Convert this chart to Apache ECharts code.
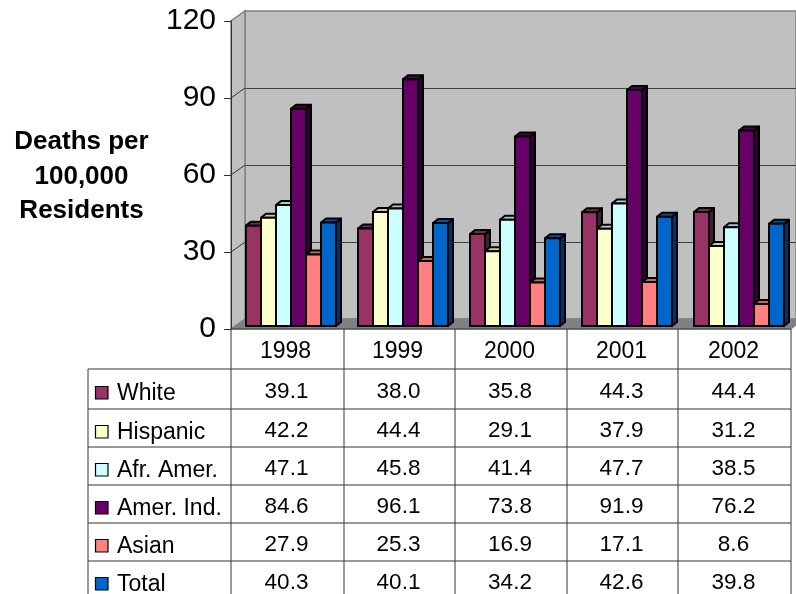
<!DOCTYPE html>
<html><head><meta charset="utf-8">
<style>html,body{margin:0;padding:0;background:#fff;overflow:hidden}#c{width:796px;height:594px}</style>
<script src="https://cdn.jsdelivr.net/npm/echarts@6/dist/echarts.min.js"></script>
</head><body><div id="c"></div>
<script>
const categories = ['1998','1999','2000','2001','2002'];
const white    = [39.1,38.0,35.8,44.3,44.4];
const hispanic = [42.2,44.4,29.1,37.9,31.2];
const afrAmer  = [47.1,45.8,41.4,47.7,38.5];
const amerInd  = [84.6,96.1,73.8,91.9,76.2];
const asian    = [27.9,25.3,16.9,17.1,8.6];
const total    = [40.3,40.1,34.2,42.6,39.8];
const seriesNames = ['White','Hispanic','Afr. Amer.','Amer. Ind.','Asian','Total'];
const seriesValues = [white,hispanic,afrAmer,amerInd,asian,total];
const colors = ['#993366','#FFFFCC','#CCFFFF','#660066','#FF8080','#0066CC'];
const yTicks = [0,30,60,90,120];

const FONT = '"Liberation Sans", Arial, sans-serif';
function shade(hex,k){
  const n=parseInt(hex.slice(1),16);
  const f=v=>Math.round(v*k);
  return `rgb(${f(n>>16&255)},${f(n>>8&255)},${f(n&255)})`;
}
// table geometry
const colX=[231,344,455,567,678,791];
const rowY=[369,409,447,485,523,561,599];
const tableLeft=88, lineC='#333';
const graphics=[];
function ln(x1,y1,x2,y2){graphics.push({type:'line',silent:true,z:20,shape:{x1,y1,x2,y2},style:{stroke:lineC,lineWidth:1}});}
colX.forEach(x=>ln(x,329,x,594));
ln(tableLeft,rowY[0],tableLeft,594);
ln(231,329,791,329);
rowY.slice(0,6).forEach(y=>ln(tableLeft,y,791,y));
seriesNames.forEach((name,r)=>{
  const cy=(rowY[r]+rowY[r+1])/2;
  graphics.push({type:'rect',silent:true,z:21,shape:{x:95.5,y:cy-2.5,width:12.5,height:12.5},style:{fill:colors[r],stroke:'#000',lineWidth:1.2}});
  graphics.push({type:'text',silent:true,z:21,style:{x:117,y:cy+4.5,text:name,font:'23px '+FONT,fill:'#000',textVerticalAlign:'middle',textAlign:'left'}});
  seriesValues[r].forEach((v,c)=>{
    graphics.push({type:'text',silent:true,z:21,style:{x:(colX[c]+colX[c+1])/2-1,y:cy+2.5,text:v.toFixed(1),font:'22.5px '+FONT,fill:'#000',textVerticalAlign:'middle',textAlign:'center'}});
  });
});
['Deaths per','100,000','Residents'].forEach((t,i)=>{
  graphics.push({type:'text',silent:true,z:21,style:{x:81.5,y:142+i*34.5,text:t,font:'bold 26px '+FONT,fill:'#000',textAlign:'center',textVerticalAlign:'middle'}});
});

// side wall + floor + diagonal tick connectors, placed through the front axes
function renderShell(params,api){
  const d=[14,-10];
  const band=api.size([1,0])[0];
  const c0=api.coord([0,0])[0]-band/2, c1=api.coord([4,0])[0]+band/2;
  const p=v=>[c0,api.coord([0,v])[1]];
  const bl=p(0), tl=p(120);
  const wr=[c1,bl[1]];
  const kids=[
    {type:'polygon',shape:{points:[bl,tl,[tl[0]+d[0],tl[1]+d[1]],[bl[0]+d[0],bl[1]+d[1]]]},style:{fill:'#C0C0C0',stroke:'#808080',lineWidth:1.5}},
    {type:'polygon',shape:{points:[bl,wr,[wr[0]+d[0],wr[1]+d[1]],[bl[0]+d[0],bl[1]+d[1]]]},style:{fill:'#808080',stroke:'#808080',lineWidth:1}}
  ];
  yTicks.slice(1,4).forEach(v=>{
    const q=p(v);
    kids.push({type:'line',shape:{x1:q[0],y1:q[1],x2:q[0]+d[0],y2:q[1]+d[1]},style:{stroke:'#333',lineWidth:1}});
  });
  return {type:'group',children:kids};
}
function barRender(i){
  return function(params,api){
    const cat=api.value(0), v=api.value(1);
    const W=15, dx=5, dy=-4, lift=-3;
    const top=api.coord([cat,v]), base=api.coord([cat,0]);
    const x0=base[0]+4-45+i*W, x1=x0+W;
    const y0=top[1]+lift, y1=base[1]+lift;
    const s={stroke:'#000',lineWidth:2,lineJoin:'round'};
    return {type:'group',children:[
      {type:'polygon',shape:{points:[[x1,y0],[x1+dx,y0+dy],[x1+dx,y1+dy],[x1,y1]]},style:Object.assign({fill:shade(colors[i],0.5)},s)},
      {type:'polygon',shape:{points:[[x0,y0],[x0+dx,y0+dy],[x1+dx,y0+dy],[x1,y0]]},style:Object.assign({fill:shade(colors[i],0.8)},s)},
      {type:'rect',shape:{x:x0,y:y0,width:W,height:y1-y0},style:Object.assign({fill:colors[i]},s)}
    ]};
  };
}
const barSeries=seriesNames.map((name,i)=>({
  type:'custom',name,xAxisIndex:0,yAxisIndex:0,z:5+i,clip:false,
  renderItem:barRender(i),
  encode:{x:0,y:1},
  data:seriesValues[i].map((v,c)=>[c,v])
}));
const chart=echarts.init(document.getElementById('c'),null,{renderer:'canvas'});
chart.setOption({
  animation:false,
  backgroundColor:'#fff',
  textStyle:{fontFamily:FONT},
  grid:[
    {left:231,top:21,width:560,height:308,show:false},
    {left:245,top:11,width:560,height:308,show:true,backgroundColor:'#C0C0C0',borderColor:'#808080',borderWidth:1.5}
  ],
  xAxis:[
    {type:'category',gridIndex:0,data:categories,boundaryGap:true,
      axisLine:{show:false},axisTick:{show:false},
      axisLabel:{fontSize:23,color:'#000',margin:11,fontFamily:FONT,padding:[0,3,0,0]}},
    {type:'category',gridIndex:1,data:categories,show:false}
  ],
  yAxis:[
    {type:'value',gridIndex:0,min:0,max:120,interval:30,z:4,
      axisLine:{show:true,lineStyle:{color:'#333',width:1}},
      axisTick:{show:true,length:7,lineStyle:{color:'#333',width:1}},
      axisLabel:{fontSize:30,color:'#000',margin:15,fontFamily:FONT,padding:[3,0,0,0]},
      splitLine:{show:false}},
    {type:'value',gridIndex:1,min:0,max:120,interval:30,
      axisLine:{show:false},axisTick:{show:false},axisLabel:{show:false},
      splitLine:{show:true,showMinLine:false,showMaxLine:false,lineStyle:{color:'#404040',width:1.2}}}
  ],
  series:[
    {type:'custom',xAxisIndex:0,yAxisIndex:0,z:1,silent:true,clip:false,renderItem:renderShell,data:[[0,0]],encode:{x:0,y:1}}
  ].concat(barSeries),
  graphic:{elements:graphics}
});
</script></body></html>
